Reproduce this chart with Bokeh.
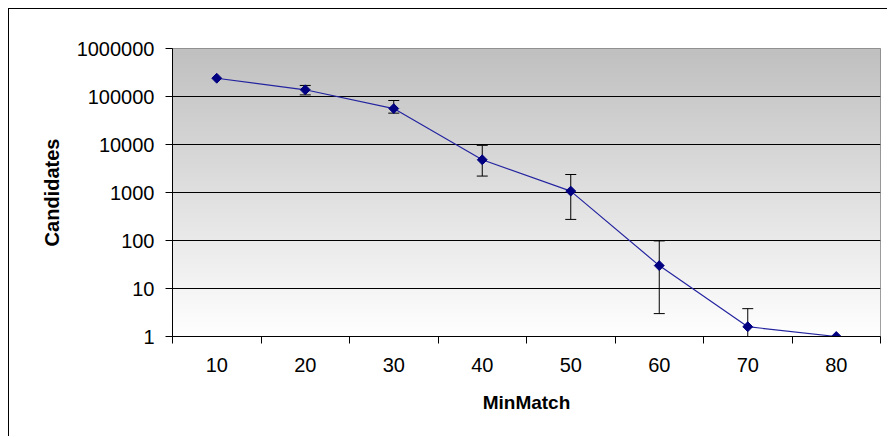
import numpy as np
from bokeh.plotting import figure
from bokeh.models import Range1d, FixedTicker, Whisker, TeeHead, ColumnDataSource
from bokeh.embed import file_html
from bokeh.resources import INLINE

# ---- data ----
categories = ["10", "20", "30", "40", "50", "60", "70", "80"]
candidates = [240000, 138000, 56000, 4800, 1070, 30, 1.6, 1]
err_categories = ["20", "30", "40", "50", "60", "70"]
err_upper = [170000, 82500, 9600, 2370, 98, 3.8]
err_lower = [108000, 45000, 2200, 275, 3, 1]
y_ticks = [1, 10, 100, 1000, 10000, 100000, 1000000]
y_tick_labels = ["1", "10", "100", "1000", "10000", "100000", "1000000"]

FONT = "Liberation Sans"

xpos = list(range(1, len(categories) + 1))
cat_index = {c: i + 1 for i, c in enumerate(categories)}
err_x = [cat_index[c] for c in err_categories]

p = figure(width=879, height=428, output_backend="svg", toolbar_location=None,
           x_range=Range1d(0.5, len(categories) + 0.5),
           y_range=Range1d(y_ticks[0], y_ticks[-1]), y_axis_type="log",
           min_border_left=163, min_border_top=39, min_border_right=8,
           min_border_bottom=101)
p.styles = {"margin-left": "8px", "margin-top": "8px",
            "border-left": "1px solid #000000", "border-top": "1px solid #000000"}
p.background_fill_color = "white"
p.border_fill_color = "white"
p.outline_line_color = "#808080"
p.outline_line_width = 1

# gradient plot-area background (grey at top to white at bottom)
N = 256
frac = np.linspace(0, 1, N)  # bottom -> top
grey = (255 - 63 * frac).astype(np.uint32)
img = np.empty((N, 1), dtype=np.uint32)
view = img.view(dtype=np.uint8).reshape((N, 1, 4))
view[:, 0, 0] = grey
view[:, 0, 1] = grey
view[:, 0, 2] = grey
view[:, 0, 3] = 255
p.image_rgba(image=[img], x=0.5, y=y_ticks[0], dw=len(categories),
             dh=y_ticks[-1] - y_ticks[0], level="image")

# grid
p.xgrid.visible = False
p.ygrid.ticker = FixedTicker(ticks=y_ticks[1:-1])
p.ygrid.grid_line_color = "#000000"
p.ygrid.grid_line_width = 1
p.ygrid.level = "underlay"

# x axis
p.xaxis.ticker = FixedTicker(ticks=xpos, minor_ticks=[x - 0.5 for x in xpos] + [xpos[-1] + 0.5])
p.xaxis.major_label_overrides = {x: c for x, c in zip(xpos, categories)}
p.xaxis.major_tick_out = 0
p.xaxis.major_tick_in = 0
p.xaxis.minor_tick_out = 7
p.xaxis.minor_tick_in = 0
p.xaxis.minor_tick_line_color = "#000000"
p.xaxis.axis_line_color = "#000000"
p.xaxis.major_label_standoff = 14
p.xaxis.axis_label = "MinMatch"
p.xaxis.axis_label_standoff = 17
p.xaxis.axis_label_text_font_size = "19px"

# y axis
p.yaxis.ticker = FixedTicker(ticks=y_ticks)
p.yaxis.major_label_overrides = {t: l for t, l in zip(y_ticks, y_tick_labels)}
p.yaxis.major_tick_out = 7
p.yaxis.major_tick_in = 0
p.yaxis.minor_tick_out = 0
p.yaxis.minor_tick_in = 0
p.yaxis.major_tick_line_color = "#000000"
p.yaxis.axis_line_color = "#000000"
p.yaxis.major_label_standoff = 11
p.yaxis.axis_label = "Candidates"
p.yaxis.axis_label_standoff = 11
p.yaxis.axis_label_text_font_size = "20px"

for ax in (p.xaxis, p.yaxis):
    ax.major_label_text_font = FONT
    ax.major_label_text_font_size = "20px"
    ax.major_label_text_color = "#000000"
    ax.axis_label_text_font = FONT
    ax.axis_label_text_font_style = "bold"
    ax.axis_label_text_color = "#000000"

# error bars
esrc = ColumnDataSource(dict(x=err_x, upper=err_upper, lower=err_lower))
wh = Whisker(source=esrc, base="x", upper="upper", lower="lower", dimension="height",
             line_color="#000000", line_width=1,
             upper_head=TeeHead(size=11, line_color="#000000", line_width=1),
             lower_head=TeeHead(size=11, line_color="#000000", line_width=1))
p.add_layout(wh)

# series
src = ColumnDataSource(dict(x=xpos, y=candidates))
p.line("x", "y", source=src, line_color="#2424a0", line_width=1.2)
p.scatter("x", "y", source=src, marker="square", angle=np.pi / 4, size=7,
          fill_color="#000080", line_color="#000080")

open("out.html", "w").write(file_html(p, INLINE))
